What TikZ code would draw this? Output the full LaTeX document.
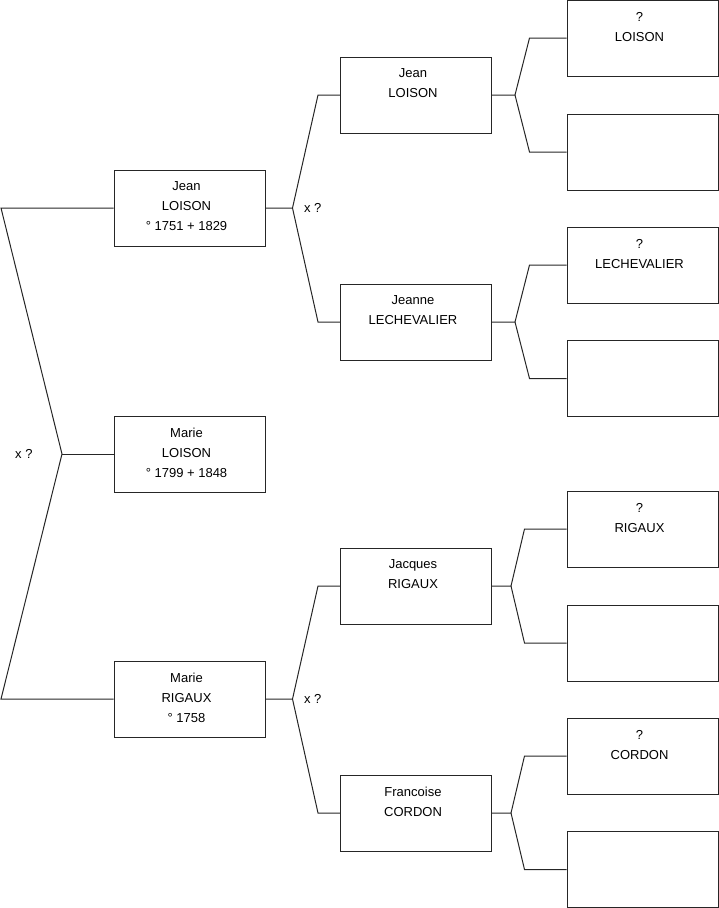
\documentclass[tikz,border=0pt]{standalone}
\usepackage{fontspec}
\setmainfont{Liberation Sans}
\usepackage{tikz}
\usetikzlibrary{positioning}

\begin{document}
\begin{tikzpicture}[
  x=1pt, y=-1pt, font=\fontsize{13}{20}\selectfont,
  line width=1pt, draw=black!85,
  pbox/.style={draw=black!85, minimum width=151, minimum height=76, inner sep=0},
  ptext/.style={align=center, inner sep=0, anchor=north, yshift=-12, xshift=-3},
  xq/.style={inner sep=0}]
\useasboundingbox (0,0) rectangle (719,908);
% generation 1
\node[pbox, label={[ptext]north:Jean\\LOISON\\° 1751 + 1829}] (jean) at (189.5,208) {};
\node[pbox, label={[ptext]north:Marie\\LOISON\\° 1799 + 1848}] (mloison) at (189.5,454) {};
\node[pbox, label={[ptext]north:Marie\\RIGAUX\\° 1758}] (mrigaux) at (189.5,699) {};
% generation 2
\node[pbox, label={[ptext]north:Jean\\LOISON}] (jl) at (416,95) {};
\node[pbox, label={[ptext]north:Jeanne\\LECHEVALIER}] (jc) at (416,322) {};
\node[pbox, label={[ptext]north:Jacques\\RIGAUX}] (jr) at (416,586) {};
\node[pbox, label={[ptext]north:Francoise\\CORDON}] (fc) at (416,813) {};
% generation 3
\node[pbox, label={[ptext]north:?\\LOISON}] (a1) at (642.5,38) {};
\node[pbox] (a2) at (642.5,152) {};
\node[pbox, label={[ptext]north:?\\LECHEVALIER}] (a3) at (642.5,265) {};
\node[pbox] (a4) at (642.5,378.5) {};
\node[pbox, label={[ptext]north:?\\RIGAUX}] (a5) at (642.5,529) {};
\node[pbox] (a6) at (642.5,643) {};
\node[pbox, label={[ptext]north:?\\CORDON}] (a7) at (642.5,756) {};
\node[pbox] (a8) at (642.5,869.5) {};
% root fork
\coordinate (rtop) at (1,208); \coordinate (rbot) at (1,699);
\coordinate (root) at (62,454);
\draw (jean.west) -- (rtop) -- (root) -- (rbot) -- (mrigaux.west);
\draw (root) -- (mloison.west);
\node[xq, anchor=east] (xq0) at ([xshift=-29]root) {x ?};
% forks to generation 2
\draw (jean.east) -- ++(27,0) coordinate (fj) -- ([xshift=-22]jl.west) -- (jl.west);
\draw (fj) -- ([xshift=-22]jc.west) -- (jc.west);
\node[xq, anchor=west] (xq1) at ([xshift=11]fj) {x ?};
\draw (mrigaux.east) -- ++(27,0) coordinate (fr) -- ([xshift=-22]jr.west) -- (jr.west);
\draw (fr) -- ([xshift=-22]fc.west) -- (fc.west);
\node[xq, anchor=west] (xq2) at ([xshift=11]fr) {x ?};
% forks to generation 3
\draw (jl.east) -- ++(23,0) coordinate (fjl) -- ([xshift=-37]a1.west) -- (a1.west);
\draw (fjl) -- ([xshift=-37]a2.west) -- (a2.west);
\draw (jc.east) -- ++(23,0) coordinate (fjc) -- ([xshift=-37]a3.west) -- (a3.west);
\draw (fjc) -- ([xshift=-37]a4.west) -- (a4.west);
\draw (jr.east) -- ++(19,0) coordinate (fjr) -- ([xshift=-42]a5.west) -- (a5.west);
\draw (fjr) -- ([xshift=-42]a6.west) -- (a6.west);
\draw (fc.east) -- ++(19,0) coordinate (ffc) -- ([xshift=-42]a7.west) -- (a7.west);
\draw (ffc) -- ([xshift=-42]a8.west) -- (a8.west);
\end{tikzpicture}
\end{document}
